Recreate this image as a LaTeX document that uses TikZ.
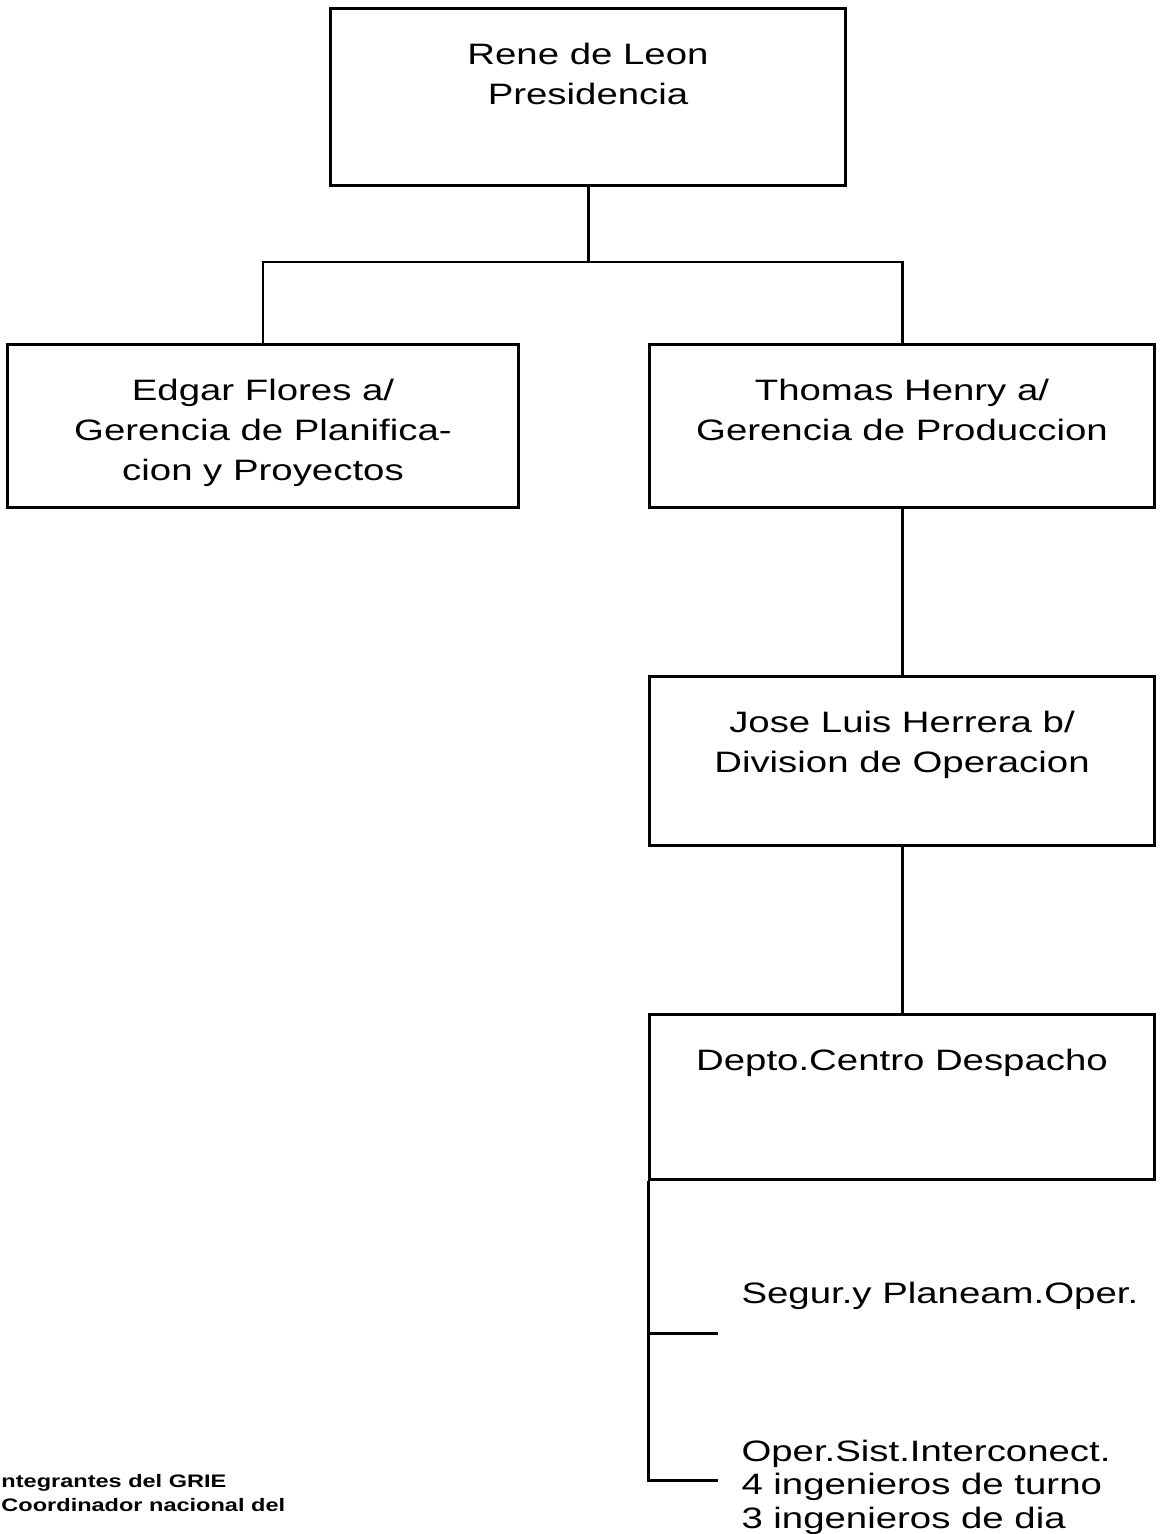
\documentclass[tikz,border=0pt]{standalone}
\usepackage{fontspec}
\setmainfont{Liberation Sans}[FakeStretch=1.3]
\usetikzlibrary{positioning}

\begin{document}
\begin{tikzpicture}[
  x=0.02cm, y=-0.02cm,
  line width=1.7pt,
  orgbox/.style={rectangle, draw, inner sep=0pt, minimum width=10.1cm},
  boxtext/.style={align=center, inner sep=0pt, font=\fontsize{16.8}{22.7}\selectfont},
  subunit/.style={anchor=west, align=left, inner sep=0pt, font=\fontsize{16.8}{19}\selectfont},
  fnote/.style={anchor=west, align=left, inner sep=0pt, font=\bfseries\fontsize{10.3}{14.2}\selectfont},
]
  \useasboundingbox (0,0) rectangle (1159,1534);

  % boxes
  \node[orgbox, minimum width=10.32cm, minimum height=3.56cm] (pres)  at (588,97)    {};
  \node[orgbox, minimum width=10.24cm, minimum height=3.28cm] (plan)  at (263,426)   {};
  \node[orgbox, minimum height=3.28cm]                        (prod)  at (902,426)   {};
  \node[orgbox, minimum height=3.4cm]                         (div)   at (902,761)   {};
  \node[orgbox, minimum height=3.3cm]                         (depto) at (902,1097)  {};

  % texts in the boxes
  \node[boxtext, below=0.7cm of pres.north]  (presT)  {Rene de Leon\\Presidencia};
  \node[boxtext, below=0.7cm of plan.north]  (planT)  {Edgar Flores a/\\Gerencia de Planifica-\\cion y Proyectos};
  \node[boxtext, below=0.7cm of prod.north]  (prodT)  {Thomas Henry a/\\Gerencia de Produccion};
  \node[boxtext, below=0.7cm of div.north]   (divT)   {Jose Luis Herrera b/\\Division de Operacion};
  \node[boxtext, below=0.7cm of depto.north] (deptoT) {Depto.Centro Despacho};

  % lines
  \coordinate (bus) at (588,262);
  \draw (pres.south) -- (bus);
  \draw (plan.north) |- (bus) -| (prod.north);
  \draw (prod.south) -- (div.north);
  \draw (div.south) -- (depto.north);

  \coordinate (seg) at (718,1333);
  \coordinate (ope) at (718,1480);
  \draw (depto.south west) |- (ope);
  \draw (depto.south west |- seg) -- (seg);

  \node[subunit] (segT) at (740,1296) {Segur.y Planeam.Oper.};
  \node[subunit] (opeT) at (740,1487) {Oper.Sist.Interconect.\\4 ingenieros de turno\\3 ingenieros de dia};

  % notes
  \node[fnote] (grieT) at (0,1493) {ntegrantes del GRIE\\Coordinador nacional del};
\end{tikzpicture}
\end{document}
